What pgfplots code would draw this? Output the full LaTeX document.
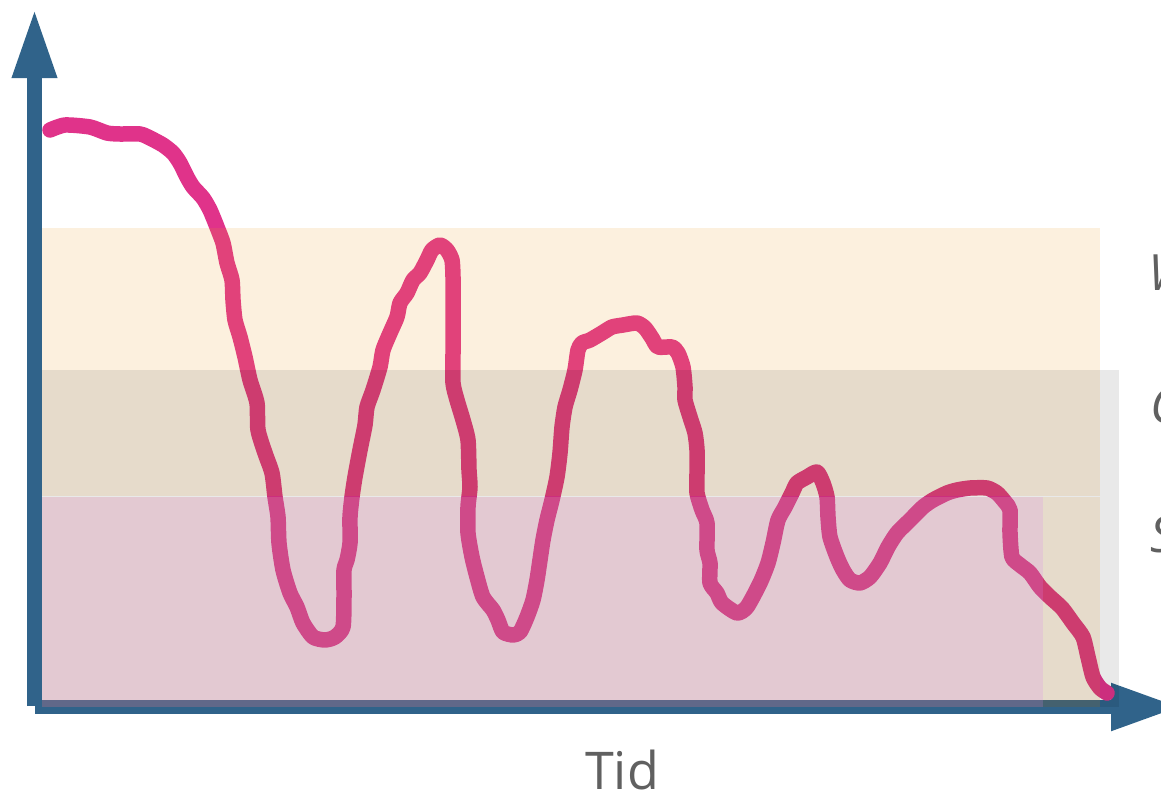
\documentclass[border=0pt]{standalone}
\usepackage{fontspec}
\setmainfont{Open Sans}
\usepackage{pgfplots}
\pgfplotsset{compat=1.18}
\usetikzlibrary{arrows.meta}

\definecolor{axisblue}{RGB}{48,99,138}
\definecolor{curvepink}{RGB}{224,51,138}
\definecolor{beige}{RGB}{235,155,35}
\definecolor{lilac}{RGB}{217,133,245}
\definecolor{txtgrey}{RGB}{96,96,96}

\begin{document}
\begin{tikzpicture}
\begin{axis}[
    name=ax, at={(0,0)}, anchor=south west,
    scale only axis, width=1161pt, height=795pt,
    xmin=0, xmax=1161, ymin=0, ymax=795,
    y dir=reverse,
    hide axis, clip=false,
]
% axes (pixel coordinates, y downwards)
\addplot[axisblue, line width=15pt, -{Triangle[width=41pt,length=70pt]}]
    coordinates {(34.5,706) (34.5,8)};
\addplot[axisblue, line width=14pt, -{Triangle[width=44pt,length=70pt]}]
    coordinates {(35,707) (1181,707)};

% the curve
\addplot[curvepink, line width=15.5pt, line cap=round, line join=round, smooth, tension=0.4]
    coordinates {
    (50,130) (65,125) (90,127) (107,133) (120,134) (140,134) (150,138)
    (163,145) (173,153) (180,163) (187,177) (193,187) (203,198) (210,210)
    (217,227) (223,243) (227,263) (232,280) (233,300) (235,320) (240,337)
    (245,357) (250,380) (257,403) (258,430) (265,453) (272,473) (275,497)
    (278,517) (279,543) (283,570) (290,593) (297,607) (303,623) (313,637)
    (325,640) (335,637) (343,627) (344,597) (344,570) (347,560) (350,543)
    (350,517) (352,497) (355,477) (360,450) (365,425) (367,407) (373,390)
    (380,367) (383,350) (390,333) (397,317) (400,303) (407,293) (413,280)
    (420,273) (427,260) (432,250) (440,245) (447,250) (452,260) (453,277)
    (453,293) (453,320) (453,353) (453,383) (457,400) (463,420) (468,440)
    (469,470) (470,487) (468,507) (468,533) (472,557) (477,577) (483,597)
    (493,610) (498,620) (503,632) (513,635) (520,632) (527,617) (533,600)
    (537,580) (540,560) (543,540) (547,520) (552,500) (557,477) (560,453)
    (562,427) (565,407) (570,390) (575,370) (578,350) (582,343) (590,340)
    (602,333) (612,327) (623,325) (637,323) (645,328) (652,338) (658,347)
    (672,347) (678,353) (683,367) (685,387) (685,400) (690,417) (695,433)
    (697,450) (697,473) (697,493) (702,510) (707,523) (707,550) (710,563)
    (710,583) (717,593) (722,603) (737,613) (747,607) (760,583) (768,563)
    (773,543) (778,520) (785,507) (792,493) (797,483) (807,477) (817,472)
    (823,483) (827,497) (828,517) (830,537) (837,557) (843,570) (850,580)
    (860,583) (870,577) (880,563) (888,547) (897,533) (910,520) (923,507)
    (933,500) (947,493) (957,490) (970,488) (987,488) (997,493) (1005,502)
    (1010,510) (1010,533) (1012,557) (1020,565) (1030,573) (1040,587)
    (1050,597) (1062,608) (1073,623) (1083,637) (1088,657) (1093,677)
    (1100,688) (1107,693)
    };

% translucent bands
\addplot[draw=none, fill=beige, fill opacity=0.15]
    coordinates {(42,228) (1100,228) (1100,495.5) (42,495.5)} -- cycle;
\addplot[draw=none, fill=beige, fill opacity=0.15]
    coordinates {(42,497) (1100,497) (1100,707) (42,707)} -- cycle;
\addplot[draw=none, fill=black, fill opacity=0.085]
    coordinates {(42,370) (1119,370) (1119,707) (42,707)} -- cycle;
\addplot[draw=none, fill=lilac, fill opacity=0.2]
    coordinates {(42,497) (1043,497) (1043,707) (42,707)} -- cycle;

% texts
\node[anchor=base, text=txtgrey, font=\fontsize{52}{60}\selectfont]
    at (axis cs:622,789) {Tid};
\node[anchor=base west, inner sep=0pt, text=txtgrey, font=\fontsize{50}{60}\selectfont\itshape]
    at (axis cs:1148,290) {W};
\node[anchor=base west, inner sep=0pt, text=txtgrey, font=\fontsize{50}{60}\selectfont\itshape]
    at (axis cs:1150,423) {G};
\node[anchor=base west, inner sep=0pt, text=txtgrey, font=\fontsize{50}{60}\selectfont\itshape]
    at (axis cs:1150,552) {S};
\end{axis}
\pgfresetboundingbox
\path[use as bounding box] (ax.south west) rectangle (ax.north east);
\end{tikzpicture}
\end{document}
